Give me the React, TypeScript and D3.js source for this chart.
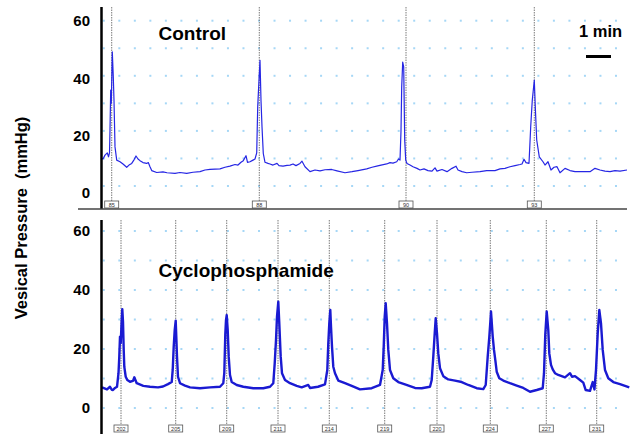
import React from "react";
import * as d3 from "d3";

// time in seconds from the start of the window, pressure in mmHg
const controlTrace: [number, number][] = [
  [0, 10], [4.8, 9.8], [9.6, 11.2], [15.1, 12], [18, 10.6], [20.4, 12], [21.6, 20.3],
  [23.3, 34.8], [24.7, 30], [27.1, 48.7], [29.5, 39.6], [31.2, 31], [33.6, 14.2],
  [37.7, 9.4], [45.6, 8.8], [52.8, 8], [61.7, 6.8], [67.2, 7.6], [73.7, 8.2], [79.2, 9.5],
  [84, 10.9], [88.8, 9.8], [93.6, 9.2], [100.8, 8.5], [109.7, 8.2], [113.5, 8.5],
  [117.6, 7], [121.7, 5.6], [133.7, 4.9], [148.8, 5.1], [158.4, 4.8], [177.6, 4.6],
  [189.6, 4.9], [205.7, 4.6], [220.8, 5], [237.6, 5.2], [249.6, 5.8], [261.6, 6],
  [273.6, 6.1], [285.6, 6.2], [297.6, 6.8], [309.6, 7.2], [321.6, 7.8], [328.8, 7.6],
  [336, 8.6], [341.5, 9.2], [348, 11], [351.6, 8.6], [357.6, 8.8], [364.8, 9.4],
  [369.6, 9.8], [373.7, 12], [376.1, 28.7], [378, 34.8], [381.6, 45.6], [384, 31],
  [386.4, 21.5], [389.5, 11.8], [393.6, 8.6], [400.8, 8.2], [405.6, 8], [412.8, 7.6],
  [422.4, 8.2], [427.2, 7.4], [436.8, 7.2], [446.4, 7.5], [453.6, 7.6], [460.8, 8],
  [468, 7.4], [477.6, 8.2], [482.4, 9], [489.6, 7], [501.6, 5.2], [513.6, 5.8],
  [525.6, 5.5], [537.6, 5.9], [553.7, 6], [566.4, 5.5], [585.6, 4.8], [602.4, 5.2],
  [616.8, 5.6], [637.7, 6.2], [650.4, 6.8], [661.7, 7.2], [672, 7.6], [685.7, 8],
  [693.6, 8.5], [700.8, 8.3], [709.7, 8.8], [714, 9.8], [717.6, 9.4], [720, 20],
  [721.7, 36], [724.1, 45], [726.5, 43.2], [728.9, 16.7], [731.3, 9.4], [734.4, 8.2],
  [741.6, 7.6], [748.8, 7], [758.4, 6.4], [765.6, 5.8], [775.2, 6.2], [784.8, 5.6],
  [794.4, 5.4], [801.6, 6.6], [806.4, 5.4], [818.4, 6], [830.4, 5.2], [842.4, 6.4],
  [852, 7.2], [856.8, 5.8], [866.4, 5.2], [877.7, 4.8], [890.4, 5], [909.6, 5.2],
  [925.7, 5.6], [945.6, 5.6], [957.6, 6.2], [969.6, 6.4], [981.6, 7], [993.6, 7.4],
  [1005.6, 7.8], [1010.4, 8], [1015.2, 9.7], [1020, 8.5], [1027.2, 8.2], [1031.3, 21.5],
  [1035.1, 31.2], [1039.9, 38.4], [1042.3, 28.7], [1045.7, 16.7], [1051.9, 10.6],
  [1060.8, 8.8], [1065.6, 7.6], [1072.8, 8.8], [1080, 5.8], [1087.2, 6.8], [1094.4, 7],
  [1101.6, 4.8], [1113.6, 6.4], [1125.6, 5.6], [1137.6, 5.2], [1154.4, 5.2],
  [1173.6, 5.2], [1185.6, 6.4], [1197.6, 5.8], [1209.6, 5.4], [1221.6, 5.2],
  [1233.6, 5.6], [1245.6, 5.4], [1262.4, 5.8],
];

const cycloTrace: [number, number][] = [
  [2.4, 7], [14.4, 6.3], [21.6, 7.2], [25.7, 6.2], [28.8, 6.1], [33.6, 6.8], [38.4, 7.2],
  [42, 11.8], [43.9, 17.4], [45.6, 24.2], [47.3, 22], [49.7, 29.8], [51.1, 33.5],
  [52.8, 29.3], [54.5, 19.7], [55.9, 14], [59.3, 10.6], [63.1, 9.5], [69.6, 8.9],
  [76.8, 9.2], [79.9, 10.4], [85.7, 8.4], [101.5, 7.5], [117.6, 7.2], [136.8, 7],
  [148.8, 7.3], [160.8, 8.1], [169.7, 8.8], [172.1, 12.9], [174.5, 20.8], [176.9, 26.4],
  [179.3, 29.6], [180.7, 24.2], [182.4, 17.4], [184.8, 10.6], [189.6, 8.4], [201.6, 7.6],
  [213.6, 7], [237.6, 6.7], [261.6, 7], [285.6, 7.2], [293.5, 8.4], [295.9, 11.8],
  [298.3, 25], [300, 29.8], [301.7, 31.5], [304.1, 26.4], [306.5, 17.4], [309.6, 11.2],
  [313.7, 8.8], [325.7, 7.8], [341.5, 7.2], [365.5, 6.7], [389.5, 6.7], [405.6, 7.2],
  [413.5, 8.4], [416.9, 15.1], [420, 23], [422.4, 31], [425.5, 36], [427.9, 28.7],
  [431.3, 17.4], [434.4, 11.8], [441.6, 9.5], [453.6, 8.4], [469.7, 7.5], [481.7, 7],
  [497.5, 7.8], [501.6, 6.8], [520.8, 7.2], [537.6, 8], [543.1, 12.9], [545.5, 21.9],
  [547.9, 28.7], [550.3, 33.2], [552, 27.6], [554.4, 20.8], [557.5, 14], [561.6, 11.8],
  [569.5, 9.3], [585.6, 8.4], [601.7, 7.5], [621.6, 6.3], [649.7, 6.7], [669.6, 7.8],
  [676.1, 12.9], [678.5, 20.8], [680.9, 31], [683.3, 35.5], [686.4, 28.7], [689.5, 19.7],
  [693.6, 12.9], [701.5, 10.1], [713.5, 8.8], [729.6, 8], [753.6, 6.8], [769.7, 6.7],
  [789.6, 7.2], [793.7, 9.5], [797.5, 17.4], [800.9, 25.3], [803.3, 30.4], [806.4, 25.3],
  [809.5, 18.5], [813.6, 13.5], [821.5, 10.8], [833.5, 9.7], [849.6, 9.3], [865.7, 8.8],
  [881.5, 7.8], [901.7, 6.7], [917.5, 6.4], [923.3, 7.8], [928.1, 17.4], [931.9, 24],
  [935.3, 31], [936, 32.7], [940.1, 24.2], [943.2, 19.7], [946.3, 16.3], [949.7, 12.3],
  [955.9, 10.1], [965.5, 9.3], [981.6, 8.4], [997.7, 7.6], [1013.5, 6.8], [1029.6, 5.5],
  [1045.7, 6.1], [1060.1, 6.7], [1063.2, 11.8], [1066.3, 25], [1069.7, 32.7],
  [1073.5, 26.4], [1075.9, 18.5], [1080, 14.6], [1084.1, 13.1], [1089.6, 11.8],
  [1097.5, 11.2], [1113.6, 10.4], [1125.6, 11.8], [1130.4, 10.6], [1137.6, 10.8],
  [1149.6, 9.5], [1157.5, 8.6], [1163.3, 6.1], [1173.6, 5.8], [1180.1, 8.8], [1184.3, 6.3],
  [1188, 12.9], [1192.1, 25.3], [1196, 33.2], [1200, 28.7], [1204.1, 19.7], [1209.6, 12.9],
  [1217.5, 10.1], [1229.5, 8.8], [1245.6, 8.1], [1257.6, 7.5], [1267.9, 7],
];

const controlMarkers = [25.7, 379.9, 732, 1039.9];
const controlMarkerLabels = ["85", "88", "90", "93"];
const cycloMarkers = [48, 179.3, 301.7, 424.8, 547.9, 680.9, 806.4, 934.3, 1068.7, 1189.7];
const cycloMarkerLabels = ["202", "205", "209", "211", "214", "219", "220", "224", "227", "231"];

const yTicks = [0, 20, 40, 60];
const gridLevels = [0, 10, 20, 30, 40, 50, 60];
const gridStart = 6.7; // s
const gridStep = 37.25; // s
const scaleBarStart = 1164; // s
const scaleBarLength = 60; // 1 min

const FONT = "'Liberation Sans', Arial, Helvetica, sans-serif";
const x = d3.scaleLinear().domain([0, 1262.4]).range([101, 627]);
const gridTimes = d3.range(gridStart, 1262.4, gridStep);

type PanelProps = {
  trace: [number, number][];
  markers: number[];
  markerLabels: string[];
  yRange: [number, number];
  labelRange: [number, number];
  top: number;
  bottom: number;
  boxY: number;
  title: string;
  titleY: number;
  lineWidth: number;
  color: string;
};

function Panel(p: PanelProps) {
  const y = d3.scaleLinear().domain([0, 60]).range(p.yRange);
  const yLabel = d3.scaleLinear().domain([0, 60]).range(p.labelRange);
  const line = d3.line<[number, number]>()
    .x(d => x(d[0]))
    .y(d => y(d[1]));

  return (
    <g>
      {/* dotted grid */}
      {gridLevels.map(level =>
        gridTimes.map(t => (
          <rect key={`${level}-${t}`} x={x(t) - 1} y={y(level) - 1} width={2} height={2} fill="#a6d7f6" />
        ))
      )}

      {/* event markers */}
      {p.markers.map((m, i) => (
        <g key={i}>
          <line x1={x(m)} x2={x(m)} y1={p.top} y2={p.boxY} stroke="#7a7a7a" strokeWidth={1} strokeDasharray="1.5,1" />
          <rect x={x(m) - 7} y={p.boxY} width={14} height={7} fill="#fff" stroke="#555" strokeWidth={0.8} />
          <text x={x(m)} y={p.boxY + 5.6} textAnchor="middle" fontSize={5.5} fill="#333" fontFamily={FONT}>
            {p.markerLabels[i]}
          </text>
        </g>
      ))}

      <path d={line(p.trace) ?? ""} fill="none" stroke={p.color} strokeWidth={p.lineWidth} strokeLinejoin="round" />

      {/* axis */}
      <line x1={101.5} x2={101.5} y1={p.top} y2={p.bottom} stroke="#000" strokeWidth={2.5} />
      {yTicks.map(v => (
        <text key={v} x={90} y={yLabel(v)} dy="0.36em" textAnchor="end" fontSize={15} fontWeight="bold" fontFamily={FONT}>
          {v}
        </text>
      ))}

      <text x={158.5} y={p.titleY} fontSize={19} fontWeight="bold" fontFamily={FONT}>
        {p.title}
      </text>
    </g>
  );
}

export default function App() {
  return (
    <svg width={640} height={434} style={{ position: "absolute", left: 0, top: 0, background: "#fff" }}>
      <rect width={640} height={434} fill="#fff" />
      <Panel
        trace={controlTrace}
        markers={controlMarkers}
        markerLabels={controlMarkerLabels}
        yRange={[186, 20.7]}
        labelRange={[193, 21]}
        top={7}
        bottom={209}
        boxY={201}
        title="Control"
        titleY={39.5}
        lineWidth={1.2}
        color="#2626e4"
      />
      <line x1={78} x2={627} y1={209} y2={209} stroke="#444" strokeWidth={1.4} />

      <Panel
        trace={cycloTrace}
        markers={cycloMarkers}
        markerLabels={cycloMarkerLabels}
        yRange={[408, 231]}
        labelRange={[408, 231]}
        top={220}
        bottom={434}
        boxY={425}
        title="Cyclophosphamide"
        titleY={277}
        lineWidth={2.4}
        color="#1a1ad2"
      />

      {/* scale bar */}
      <text x={579} y={36.5} fontSize={16.5} fontWeight="bold" fontFamily={FONT}>1 min</text>
      <line x1={x(scaleBarStart)} x2={x(scaleBarStart + scaleBarLength)} y1={56.5} y2={56.5} stroke="#000" strokeWidth={3} />

      <text
        transform="translate(27,218) rotate(-90)"
        textAnchor="middle"
        fontSize={16.5}
        fontWeight="bold"
        fontFamily={FONT}
        style={{ whiteSpace: "pre" }}
      >
        {"Vesical Pressure  (mmHg)"}
      </text>
    </svg>
  );
}
